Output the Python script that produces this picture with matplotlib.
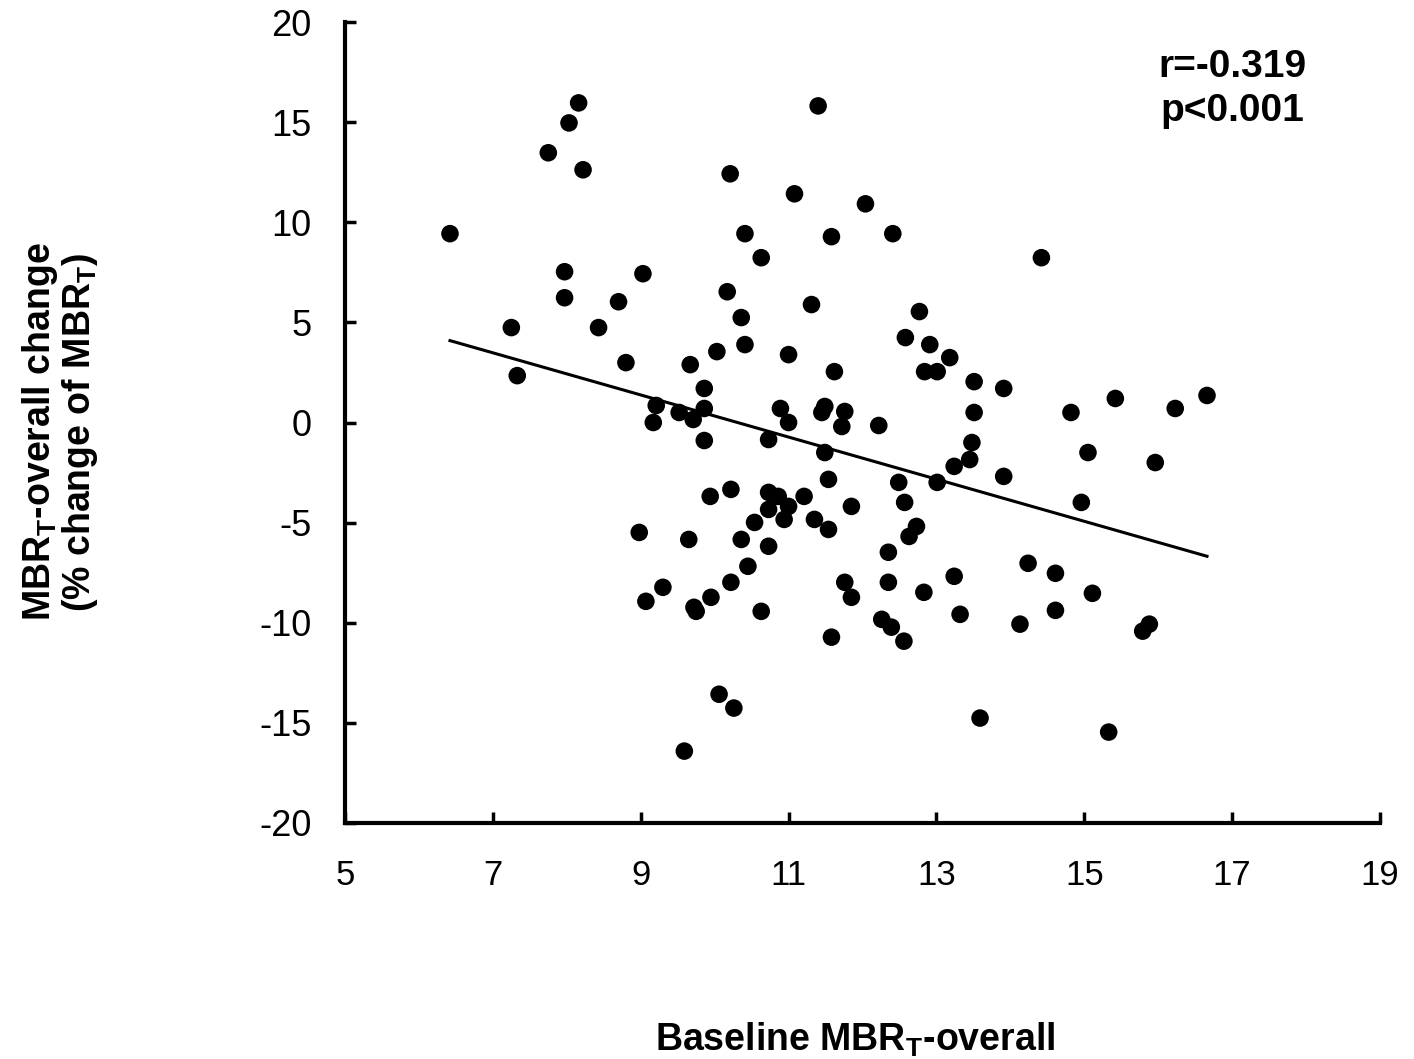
import numpy as np
import matplotlib
matplotlib.use('Agg')
import matplotlib.pyplot as plt

# baseline MBR_T-overall vs. % change
baseline = [6.42, 7.25, 7.33, 7.75, 8.03, 8.16, 8.22, 7.97, 7.97, 8.43,
            8.70, 8.80, 9.03, 9.21, 9.17, 9.52, 9.71, 9.67, 9.86, 9.86,
            9.86, 10.21, 10.41, 10.17, 10.36, 10.41, 10.03, 10.63, 11.40, 11.08,
            12.04, 11.58, 12.41, 14.42, 11.31, 12.77, 12.58, 12.91, 13.18, 11.00,
            11.62, 12.84, 13.01, 13.51, 13.91, 13.51, 10.89, 11.00, 11.49, 11.45,
            11.76, 11.72, 12.22, 10.73, 14.82, 15.42, 16.23, 16.66, 13.48, 13.45,
            13.24, 13.91, 15.05, 15.96, 14.96, 11.49, 11.54, 12.49, 13.01, 11.21,
            11.85, 12.57, 11.35, 11.54, 12.73, 12.63, 12.35, 11.76, 11.85, 12.35,
            12.83, 13.24, 13.32, 14.24, 14.61, 14.61, 14.13, 15.11, 12.26, 12.39,
            12.56, 11.58, 13.59, 15.33, 15.79, 15.88, 9.94, 10.22, 10.73, 10.86,
            11.00, 10.73, 10.94, 10.54, 8.98, 9.65, 10.36, 10.73, 10.45, 10.22,
            9.30, 9.07, 9.72, 9.75, 9.95, 10.63, 10.06, 10.26, 9.59]
change = [9.43, 4.74, 2.34, 13.47, 14.96, 15.96, 12.62, 7.53, 6.23, 4.74,
          6.03, 2.99, 7.43, 0.85, 0.00, 0.50, 0.15, 2.89, 1.70, 0.70,
          -0.90, 12.42, 9.43, 6.53, 5.24, 3.89, 3.54, 8.23, 15.81, 11.42,
          10.92, 9.28, 9.43, 8.23, 5.89, 5.54, 4.24, 3.89, 3.24, 3.39,
          2.54, 2.54, 2.54, 2.04, 1.70, 0.50, 0.70, 0.00, 0.80, 0.50,
          0.55, -0.20, -0.15, -0.85, 0.50, 1.20, 0.70, 1.35, -1.00, -1.85,
          -2.19, -2.69, -1.50, -2.00, -3.99, -1.50, -2.84, -2.99, -2.99, -3.69,
          -4.19, -3.99, -4.84, -5.34, -5.19, -5.69, -6.48, -7.98, -8.73, -7.98,
          -8.48, -7.68, -9.58, -7.03, -7.53, -9.38, -10.07, -8.53, -9.83, -10.22,
          -10.92, -10.72, -14.76, -15.46, -10.42, -10.07, -3.69, -3.34, -3.49, -3.69,
          -4.19, -4.34, -4.84, -4.99, -5.49, -5.84, -5.84, -6.18, -7.18, -7.98,
          -8.23, -8.93, -9.23, -9.43, -8.73, -9.43, -13.57, -14.26, -16.41]

# regression line end points
fit_x = [6.42, 16.66]
fit_y = [4.09, -6.68]

xticks = [5, 7, 9, 11, 13, 15, 17, 19]
yticks = [-20, -15, -10, -5, 0, 5, 10, 15, 20]

plt.rcParams['font.family'] = ['Liberation Sans', 'DejaVu Sans']
plt.rcParams['mathtext.fontset'] = 'custom'
plt.rcParams['mathtext.rm'] = 'Liberation Sans'
plt.rcParams['mathtext.bf'] = 'Liberation Sans:bold'

fig = plt.figure(figsize=(14.14, 10.59), dpi=100)
ax = fig.add_axes([345 / 1414, 1 - 823 / 1059, 1035 / 1414, 801 / 1059])

ax.scatter(baseline, change, s=160, color='black', edgecolors='none', zorder=3)
ax.plot(fit_x, fit_y, color='black', lw=2.2, zorder=2)

ax.set_xlim(5, 19)
ax.set_ylim(-20, 20)
ax.set_xticks(xticks)
ax.set_yticks(yticks)
ax.set_xticklabels([str(t) for t in xticks], fontsize=25)
ax.set_yticklabels([str(t) for t in yticks], fontsize=26)

for s in ['top', 'right']:
    ax.spines[s].set_visible(False)
for s in ['left', 'bottom']:
    ax.spines[s].set_linewidth(3)
ax.tick_params(direction='in', length=8, width=2.5)
ax.tick_params(axis='x', pad=26)
ax.tick_params(axis='y', pad=24)

ax.text(1232 / 1414, 1 - 89 / 1059, 'r=-0.319\np<0.001', transform=fig.transFigure,
        ha='center', va='center', fontsize=28, fontweight='bold', linespacing=1.3)

fig.text(855 / 1414, 1 - 1040 / 1059, r'Baseline MBR$_\mathbf{T}$-overall',
         ha='center', va='center', fontsize=27, fontweight='bold')
fig.text(60 / 1414, 1 - 432 / 1059,
         'MBR$_\\mathbf{T}$-overall change\n(% change of MBR$_\\mathbf{T}$)',
         ha='center', va='center', rotation=90, fontsize=27, fontweight='bold',
         linespacing=1.0, multialignment='center')

fig.savefig('out.png', dpi=100, facecolor='white')
